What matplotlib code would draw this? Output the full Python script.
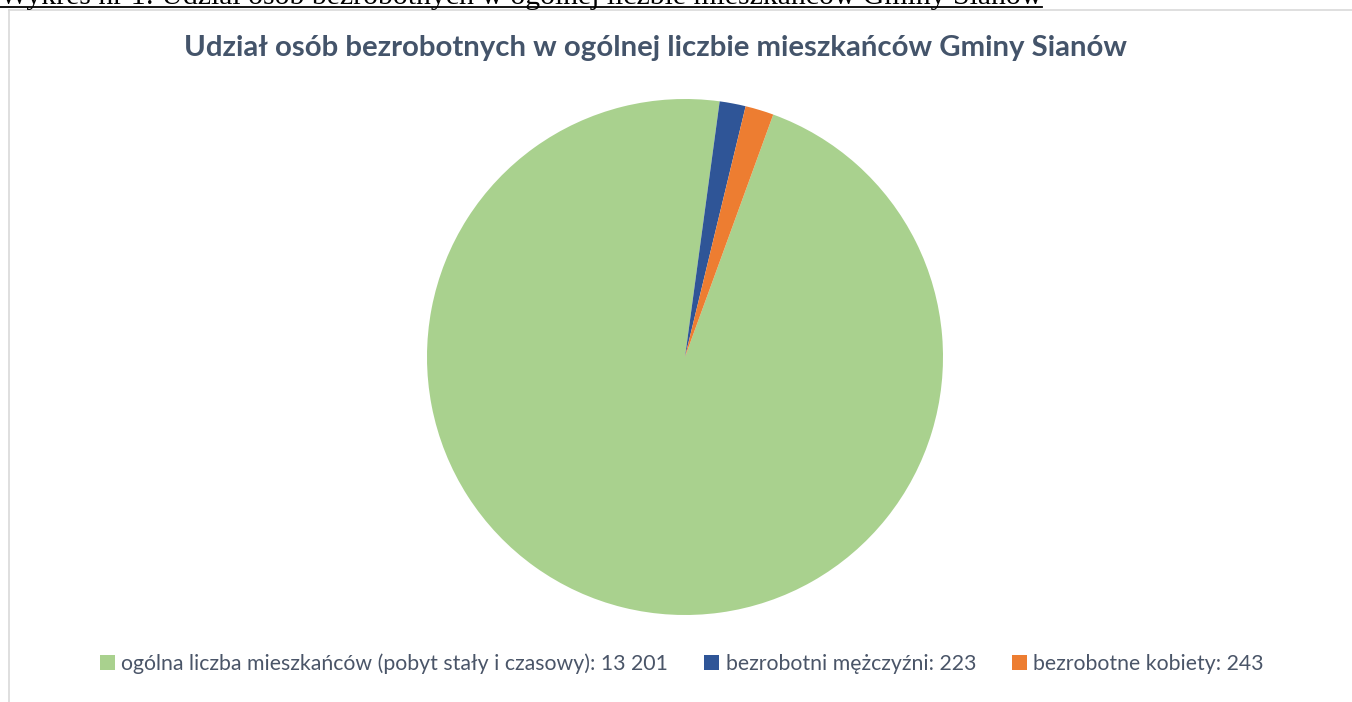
import matplotlib.pyplot as plt
from matplotlib.patches import Patch
from matplotlib.lines import Line2D

# dane
labels = ["ogólna liczba mieszkańców (pobyt stały i czasowy): 13 201",
          "bezrobotni mężczyźni: 223",
          "bezrobotne kobiety: 243"]
values = [13201, 223, 243]
colors = ["#a9d18e", "#2f5597", "#ed7d31"]

caption = "Wykres nr 1: Udział osób bezrobotnych w ogólnej liczbie mieszkańców Gminy Sianów"
title = "Udział osób bezrobotnych w ogólnej liczbie mieszkańców Gminy Sianów"

W, H = 1352, 702
fig = plt.figure(figsize=(W / 100, H / 100), dpi=100)
fig.patch.set_facecolor("white")

# ramka wykresu
fig.add_artist(Line2D([9 / W, 9 / W], [0, 1 - 10 / H], color="#d9d9d9", lw=1.2))
fig.add_artist(Line2D([9 / W, 1], [1 - 10 / H, 1 - 10 / H], color="#d9d9d9", lw=1.2))

# podpis nad wykresem (ucięty u góry, jak w dokumencie)
cap = fig.text(0, 1 - 4 / H, caption, family="Liberation Serif", fontsize=21.4,
               va="baseline", ha="left", color="black")
fig.canvas.draw()
bb = cap.get_window_extent()
fig.add_artist(Line2D([0, bb.x1 / W], [1 - 7 / H, 1 - 7 / H], color="black", lw=1.3))

fig.text(655 / W, 1 - 48 / H, title, family="Lato", fontweight="bold",
         fontsize=21.2, color="#44546a", ha="center", va="center")

# wykres kołowy
cx, cy, r = 685, 357, 258
ax = fig.add_axes([(cx - r) / W, (H - cy - r) / H, 2 * r / W, 2 * r / H])
ax.pie(values, colors=colors, startangle=70, counterclock=False,
       wedgeprops=dict(linewidth=0))
ax.set_xlim(-1, 1)
ax.set_ylim(-1, 1)
ax.set_aspect("equal")
ax.axis("off")

handles = [Patch(facecolor=c, edgecolor="none") for c in colors]
fig.legend(handles, labels, loc="center", bbox_to_anchor=(682 / W, 1 - 664 / H),
           ncol=3, frameon=False, prop=dict(family="Lato", size=15.3),
           handlelength=0.7, handleheight=0.7, handletextpad=0.3,
           columnspacing=1.7, labelcolor="#4a5568")

fig.savefig("out.png", dpi=100)
